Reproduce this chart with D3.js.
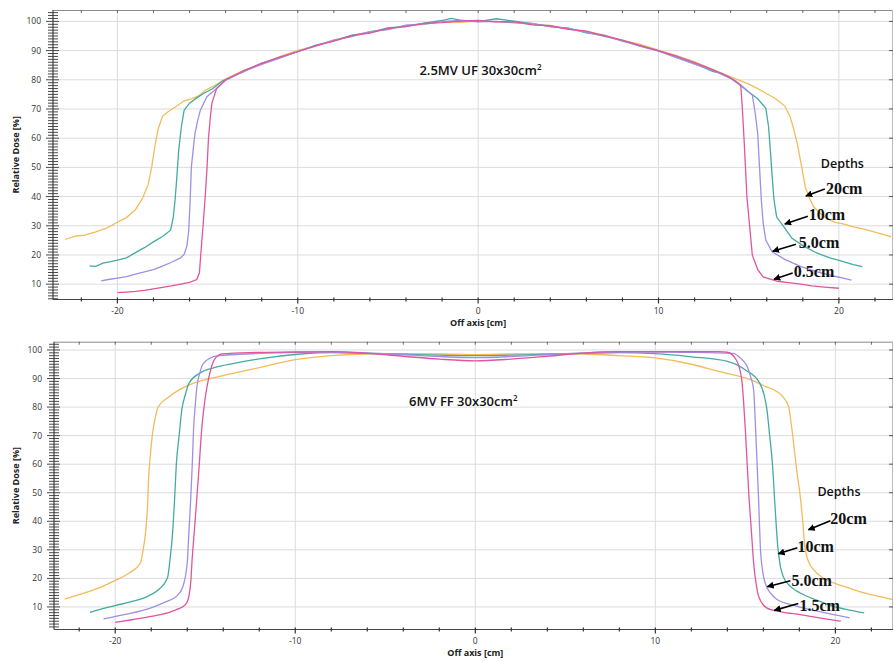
<html>
<script src="https://d3js.org/d3.v7.min.js"></script>
<style>
  body {margin: 0; background: #fff;}
  text {font-family: "Open Sans", sans-serif;}
</style>
<body>
<svg width="894" height="661"></svg>
<script>
// ---- data (x = off axis [cm], y = relative dose [%]) ----
const xTickLabels = [-20, -10, 0, 10, 20];
const yTickLabels = [10, 20, 30, 40, 50, 60, 70, 80, 90, 100];
const depthColors = ["#f3bb5a", "#45aaa2", "#9d90e6", "#e0559f"];

// 2.5MV UF 30x30
const uf20 = [[-22.9,25.3],[-22.3,26.5],[-21.8,26.8],[-21.2,27.9],[-20.6,29.2],[-20,31.2],[-19.5,32.8],[-19,35.5],[-18.6,39.5],[-18.3,44],[-18.1,50],[-17.9,58],[-17.75,63],[-17.5,67.5],[-17.1,69.5],[-16.7,71],[-16.3,72.8],[-15.9,73.5],[-15.5,74.5],[-15.1,76.5],[-14.6,78],[-14.1,80],
  [-13,83.2],[-12,85.4],[-11,87.9],[-10,90.1],[-9,91.6],[-8,93.7],[-7,95],[-6,96.5],[-5,97.3],[-4,98.6],[-3,99],[-2,99.8],[-1,99.7],[0,100.2],[1,99.9],[2,99.7],[3,98.9],[4,98.6],[5,97.4],[6,96.6],[7,95.3],[8,93.5],[9,92.1],[10,90.2],[11,88.3],[12,86.1],[13,83.6],
  [14,81],[14.5,79.8],[15,78.5],[15.5,77],[16,75.2],[16.5,73.5],[17,71],[17.3,67.3],[17.5,63],[17.7,58],[17.85,53],[18,48],[18.15,43],[18.4,39],[18.6,36.5],[19,34],[19.4,32.3],[19.8,31.2],[20.3,30.6],[20.8,29.6],[21.2,29.1],[21.7,28.3],[22.2,27.5],[22.6,26.8],[22.9,26.2]];
const uf10 = [[-21.55,16.3],[-21.2,16.1],[-20.8,17.2],[-20.3,17.8],[-20,18.2],[-19.5,19],[-19,20.8],[-18.5,22.5],[-18,24.5],[-17.5,26.3],[-17.05,28.5],[-16.9,33],[-16.8,39],[-16.7,47],[-16.6,56],[-16.45,64],[-16.3,69.6],[-16,72],[-15.6,73.8],[-15.2,75.4],[-14.7,77],[-14.2,79.5],
  [-13,82.8],[-12,85.7],[-11,87.6],[-10,89.6],[-9,91.9],[-8,93.3],[-7,95.3],[-6,96.2],[-5,97.8],[-4,98.3],[-3,99.4],[-2,100.3],[-1.5,101],[-1,100.4],[0,99.9],[1,100.9],[2,100.1],[3,99.2],[4,98.2],[5,97.7],[6,96.1],[7,95.2],[8,93.2],[9,91.6],[10,90],[11,87.7],[12,85.5],[13,82.9],
  [13.5,82.2],[14,80.5],[14.5,78.3],[15,75.8],[15.5,73.5],[15.95,70.2],[16.1,64],[16.2,56],[16.3,47],[16.4,39],[16.55,33],[16.87,30.3],[17.4,25.7],[18,23.2],[18.8,20.6],[19.5,19],[20.2,17.8],[20.8,16.7],[21.3,16]];
const uf5 = [[-20.9,11.1],[-20.5,11.6],[-20,12.1],[-19.5,12.6],[-19,13.4],[-18.5,14.2],[-18,15],[-17.5,16.2],[-17,17.5],[-16.5,19],[-16.3,20.2],[-16.15,23],[-16.05,28],[-15.97,38],[-15.9,50],[-15.8,56],[-15.7,61.6],[-15.55,66],[-15.4,69.6],[-15.04,74.2],[-14.5,77],[-14,79.8],
  [-13,82.9],[-12,85.3],[-11,87.4],[-10,89.7],[-9,91.5],[-8,93.6],[-7,94.8],[-6,96.5],[-5,97.2],[-4,98.7],[-3,99.1],[-2,99.9],[-1,100.3],[0,99.8],[1,100],[2,99.5],[3,99.3],[4,98.2],[5,97.6],[6,96.2],[7,94.9],[8,93.4],[9,91.4],[10,89.8],[11,87.6],[12,85.4],[13,83.3],
  [14,80.5],[14.6,78],[15.2,74.8],[15.35,69],[15.5,61.6],[15.6,50],[15.7,38.8],[15.8,31],[15.95,25],[16.3,21.1],[17,18.5],[17.9,16],[18.8,14.2],[19.7,12.8],[20.3,12],[20.7,11.4]];
const uf05 = [[-20,7.1],[-19.5,7.3],[-19,7.5],[-18.5,7.9],[-18,8.4],[-17.5,8.9],[-17,9.4],[-16.5,10],[-16,10.6],[-15.6,11.6],[-15.45,14],[-15.38,20],[-15.25,30],[-15.13,40],[-15.03,50],[-14.95,60],[-14.85,67],[-14.76,72],[-14.5,77],[-14,80],
  [-13,83.1],[-12,85.6],[-11,87.8],[-10,89.6],[-9,91.7],[-8,93.2],[-7,95.1],[-6,96],[-5,97.6],[-4,98.2],[-3,99.3],[-2,99.6],[-1,100.1],[0,100.3],[1,99.8],[2,99.9],[3,98.8],[4,98.5],[5,97.3],[6,96.7],[7,95],[8,93.6],[9,91.7],[10,89.9],[11,88.1],[12,85.9],[13,83.5],
  [13.8,81.3],[14.3,79.5],[14.56,78],[14.65,70],[14.74,60],[14.82,50],[14.9,40],[15.05,30],[15.2,20],[15.5,15],[15.8,12.5],[16.6,11],[17.2,10.5],[17.9,10],[18.5,9.4],[19.2,9],[20,8.6]];

// 6MV FF 30x30
const ff20 = [[-22.8,12.8],[-22,14.3],[-21,16.4],[-20,19.3],[-19.2,22],[-18.6,25.4],[-18.45,30],[-18.3,37],[-18.2,46],[-18.15,54.5],[-18.05,63],[-17.9,72],[-17.75,77],[-17.6,80.2],[-17.1,83.2],[-16.4,86.2],[-15.65,88.4],[-14.5,90.3],[-13.4,91.9],
  [-12,93.8],[-10,96.6],[-8,98],[-6,98.6],[-4,98.7],[-2,98.6],[0,98.4],[2,98.6],[4,98.7],[6,98.6],[8,98],[10,97.2],[12,95],[13.5,92.5],[15.3,89.5],[16.2,87],[16.76,85.4],[17.1,83.5],[17.4,80.2],[17.55,74],[17.7,66.2],[17.85,58],[18.05,48.7],[18.2,39],[18.3,31.2],[18.5,26],[18.8,23],[19.3,20.2],[19.9,18.4],[20.8,16.5],[21.6,14.9],[22.4,13.7],[23.2,12.6]];
const ff10 = [[-21.4,8.1],[-20.7,9.4],[-20,10.5],[-19,12],[-18.2,13.7],[-17.6,16],[-17.1,20.1],[-16.95,27],[-16.8,37],[-16.7,48],[-16.6,60.4],[-16.45,70],[-16.3,79],[-16.1,84.5],[-15.9,88.4],[-15.3,91.9],[-14.5,93.8],[-13.4,95.3],[-12,96.9],[-9.7,98.6],[-8,99.1],[-6,98.8],[-4,98.5],[-2,98.2],[0,98],
  [2,98.2],[4,98.5],[6,98.8],[8,99.1],[10,98.7],[12,97.6],[14,96],[15,93],[15.8,88.4],[16.05,84],[16.2,79],[16.35,70],[16.5,60.4],[16.65,45],[16.8,31.2],[16.95,24],[17.1,20.7],[17.5,17.2],[18.05,14.9],[19,12.3],[19.9,10.2],[20.8,8.9],[21.6,7.9]];
const ff5 = [[-20.65,5.8],[-19.5,7.3],[-18.05,9.6],[-17.2,11.8],[-16.6,13.7],[-16.25,17],[-16,25.4],[-15.9,37],[-15.8,48.7],[-15.72,60],[-15.65,72],[-15.55,81],[-15.46,87.2],[-15.3,92],[-15.1,95.3],[-14.35,97.9],[-12,98.8],[-9.7,99.2],[-8,99.3],[-6,99],[-4,98.4],[-2,97.7],[0,97.3],
  [2,97.7],[4,98.4],[6,99],[8,99.3],[10,99.3],[12,99.2],[14.3,98.8],[14.7,97.3],[15.1,94.2],[15.3,90.5],[15.46,86],[15.55,75],[15.65,60.4],[15.75,45],[15.83,31.2],[15.95,23],[16.1,18.4],[16.4,14.8],[16.76,12.6],[17.8,10.4],[19,8.5],[20,7.2],[20.8,6.2]];
const ff15 = [[-20,4.6],[-19,5.6],[-18,6.7],[-17.1,7.9],[-16.5,9.3],[-16.1,10.8],[-15.9,14],[-15.8,19],[-15.74,25.4],[-15.6,37],[-15.46,48.7],[-15.33,60],[-15.2,72],[-15.05,81],[-14.9,87.2],[-14.7,93],[-14.5,96.5],[-14.07,98.6],[-12.5,99.1],[-10,99.3],[-8,99.4],[-6,98.8],[-4,97.8],[-2,96.8],[0,96.2],
  [2,96.8],[4,97.8],[6,98.9],[8,99.4],[10,99.4],[12,99.4],[13.5,99.4],[14,99.2],[14.5,96.5],[14.8,89.5],[14.9,82],[15,72],[15.1,60],[15.2,48.7],[15.33,37],[15.46,25.4],[15.6,18],[15.74,13.7],[16.2,9.6],[17,8.3],[18.05,7.3],[19.2,6.1],[20.3,5]];

const ufLabels = ["20cm", "10cm", "5.0cm", "0.5cm"];
const ffLabels = ["20cm", "10cm", "5.0cm", "1.5cm"];

// annotation anchors in data units: [text x, text y, arrow tail x, tail y, tip x, tip y]
const ufNotes = [[19.28,40.9,19.22,42.6,18.17,40.2],[18.33,31.95,18.28,33.3,17.0,30.6],[17.78,22.4,17.62,23.7,16.33,21.3],[17.5,12.4,17.44,13.8,16.4,11.7]];
const ffNotes = [[19.72,39.1,19.72,40.2,18.5,37.0],[17.89,29.1,17.89,30.7,16.83,28.6],[17.56,17.2,17.5,19.2,16.22,17.1],[18.0,8.5,17.94,11.2,16.61,8.8]];

const panels = [
  {key: "uf", title: "2.5MV UF 30x30cm", titleAt: [0.13, 81.6], depthsAt: [19.0, 49.8],
   series: [uf20, uf10, uf5, uf05], labels: ufLabels, notes: ufNotes, curve: d3.curveLinear,
   xd: [-23.57, 23.0], xr: [53, 893], yd: [4.75, 103.9], yr: [299.5, 10]},
  {key: "ff", title: "6MV FF 30x30cm", titleAt: [-0.67, 80.4], depthsAt: [19.0, 48.9],
   series: [ff20, ff10, ff5, ff15], labels: ffLabels, notes: ffNotes, curve: d3.curveMonotoneX,
   xd: [-23.4, 23.2], xr: [54, 893], yd: [2.1, 102.9], yr: [629.5, 341.7]}
];

const svg = d3.select("svg");

svg.append("defs").append("marker")
  .attr("id", "head")
  .attr("viewBox", "0 0 10 10")
  .attr("refX", 9).attr("refY", 5)
  .attr("markerWidth", 7).attr("markerHeight", 7)
  .attr("markerUnits", "userSpaceOnUse")
  .attr("orient", "auto")
  .append("path").attr("d", "M0,0 L10,5 L0,10 Z").attr("fill", "#000");

panels.forEach(function(p) {
  const xs = d3.scaleLinear().domain(p.xd).range(p.xr);
  const ys = d3.scaleLinear().domain(p.yd).range(p.yr);
  const g = svg.append("g");
  const left = p.xr[0], right = p.xr[1], top = p.yr[1], bottom = p.yr[0];

  g.append("clipPath").attr("id", "clip-" + p.key)
    .append("rect").attr("x", left).attr("y", top).attr("width", right - left).attr("height", bottom - top);

  // grid
  g.selectAll(".vg").data(xTickLabels).enter().append("line")
    .attr("x1", d => xs(d)).attr("x2", d => xs(d)).attr("y1", top).attr("y2", bottom)
    .attr("stroke", "#dcdcdc").attr("stroke-width", 1);
  g.selectAll(".hg").data(yTickLabels).enter().append("line")
    .attr("x1", left).attr("x2", right).attr("y1", d => ys(d)).attr("y2", d => ys(d))
    .attr("stroke", "#dcdcdc").attr("stroke-width", 1);

  // curves
  const line = d3.line().x(d => xs(d[0])).y(d => ys(d[1])).curve(p.curve);
  g.append("g").attr("clip-path", "url(#clip-" + p.key + ")")
    .selectAll("path").data(p.series).enter().append("path")
    .attr("d", line).attr("fill", "none")
    .attr("stroke", (d, i) => depthColors[i]).attr("stroke-width", 1.3);

  // frame
  g.append("line").attr("x1", left).attr("x2", right).attr("y1", top + 0.5).attr("y2", top + 0.5).attr("stroke", "#8a8a8a");
  g.append("line").attr("x1", right - 0.5).attr("x2", right - 0.5).attr("y1", top).attr("y2", bottom).attr("stroke", "#bbb");
  g.append("line").attr("x1", left).attr("x2", left).attr("y1", top).attr("y2", bottom).attr("stroke", "#444").attr("stroke-width", 1.2);
  g.append("line").attr("x1", left).attr("x2", right).attr("y1", bottom).attr("y2", bottom).attr("stroke", "#444").attr("stroke-width", 1.2);

  // y ticks: minor every 1, major every 10, crossing the axis line
  const yMinor = d3.range(Math.ceil(p.yd[0]), Math.floor(p.yd[1]) + 1);
  g.selectAll(".ymin").data(yMinor).enter().append("line")
    .attr("x1", d => left - (d % 10 === 0 ? 7 : 5)).attr("x2", d => left + (d % 10 === 0 ? 6 : 5))
    .attr("y1", d => ys(d)).attr("y2", d => ys(d))
    .attr("stroke", "#333").attr("stroke-width", 0.9);
  g.selectAll(".ylab").data(yTickLabels).enter().append("text")
    .attr("x", left - 12).attr("y", d => ys(d) + 3)
    .attr("text-anchor", "end").attr("font-size", 8.5).attr("fill", "#333")
    .text(d => d);

  // right border ticks
  g.selectAll(".yr").data(yTickLabels).enter().append("line")
    .attr("x1", right - 4).attr("x2", right).attr("y1", d => ys(d)).attr("y2", d => ys(d))
    .attr("stroke", "#555");

  // x ticks every 2 cm
  const xMinor = d3.range(Math.ceil(p.xd[0] / 2) * 2, p.xd[1], 2);
  g.selectAll(".xmin").data(xMinor).enter().append("line")
    .attr("x1", d => xs(d)).attr("x2", d => xs(d))
    .attr("y1", bottom - 2).attr("y2", d => bottom + (d % 10 === 0 ? 4 : 2))
    .attr("stroke", "#333").attr("stroke-width", 1.2);
  g.selectAll(".xtop").data(xMinor).enter().append("line")
    .attr("x1", d => xs(d)).attr("x2", d => xs(d))
    .attr("y1", top).attr("y2", top + 3)
    .attr("stroke", "#666").attr("stroke-width", 1);
  g.selectAll(".xlab").data(xTickLabels).enter().append("text")
    .attr("x", d => xs(d)).attr("y", bottom + 14)
    .attr("text-anchor", "middle").attr("font-size", 8.5).attr("fill", "#333")
    .text(d => d);

  // axis titles
  g.append("text").attr("x", xs(0)).attr("y", bottom + 26)
    .attr("text-anchor", "middle").attr("font-size", 9).attr("font-weight", "bold").attr("fill", "#222")
    .text("Off axis [cm]");
  g.append("text")
    .attr("transform", "translate(19," + ((top + bottom) / 2) + ") rotate(-90)")
    .attr("text-anchor", "middle").attr("font-size", 9).attr("font-weight", "bold").attr("fill", "#222")
    .text("Relative Dose [%]");

  // panel title
  const t = g.append("text").attr("x", xs(p.titleAt[0])).attr("y", ys(p.titleAt[1]))
    .attr("text-anchor", "middle").attr("font-size", 13).attr("font-weight", 600).attr("fill", "#111")
    .text(p.title);
  t.append("tspan").attr("dy", -5).attr("font-size", 8).text("2");

  // depth annotations
  g.append("text").attr("x", xs(p.depthsAt[0])).attr("y", ys(p.depthsAt[1]))
    .attr("font-size", 12.5).attr("font-weight", 600).attr("fill", "#111")
    .text("Depths");
  p.notes.forEach(function(n, i) {
    g.append("line")
      .attr("x1", xs(n[2])).attr("y1", ys(n[3])).attr("x2", xs(n[4])).attr("y2", ys(n[5]))
      .attr("stroke", "#000").attr("stroke-width", 1.6).attr("marker-end", "url(#head)");
    g.append("text").attr("x", xs(n[0])).attr("y", ys(n[1]))
      .style("font-family", "'Liberation Serif', 'Times New Roman', serif")
      .attr("font-size", 16).attr("font-weight", "bold").attr("fill", "#111")
      .text(p.labels[i]);
  });
});
</script>
</body>
</html>
